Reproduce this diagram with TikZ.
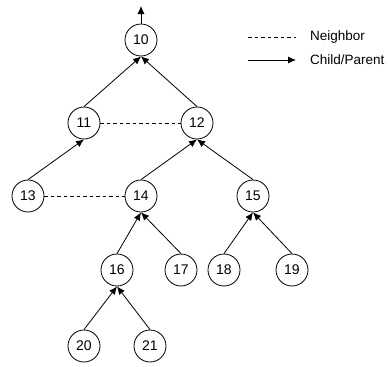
\documentclass[tikz,border=0pt]{standalone}
\usepackage{fontspec}
\setmainfont{Liberation Sans}
\usetikzlibrary{arrows.meta}
\tikzset{
    vertex/.style = {draw, circle, line width=0.8pt,
        minimum size=32pt, inner sep=0pt,
        font=\fontsize{14}{16}\selectfont},
    link/.style = {draw, line width=0.8pt, -{Latex[length=8pt,width=7pt]}},
    nbr/.style = {draw, line width=0.8pt, dash pattern=on 3.5pt off 3pt},
    legend/.style = {anchor=west, inner sep=0pt, font=\fontsize{13.5}{15}\selectfont}
}

\begin{document}
\begin{tikzpicture}[x=1pt, y=-1pt]
            \useasboundingbox (0,0) rectangle (389,367);
            % tree nodes
            \node[vertex] (n10) at (141,40) {10};
            \node[vertex] (n11) at (84,123) {11};
            \node[vertex] (n12) at (197,123) {12};
            \node[vertex] (n13) at (28,196) {13};
            \node[vertex] (n14) at (141,196) {14};
            \node[vertex] (n15) at (253,196) {15};
            \node[vertex] (n16) at (117,270) {16};
            \node[vertex] (n17) at (181,270) {17};
            \node[vertex] (n18) at (224,270) {18};
            \node[vertex] (n19) at (292,270) {19};
            \node[vertex] (n20) at (84,346) {20};
            \node[vertex] (n21) at (150,346) {21};
            \coordinate (up) at (141,6);
            % child -> parent
            \draw [link] (n10) -- (up);
            \draw [link] (n11.north) -- (n10.south);
            \draw [link] (n12.north) -- (n10.south);
            \draw [link] (n13.north) -- (n11.south);
            \draw [link] (n14.north) -- (n12.south);
            \draw [link] (n15.north) -- (n12.south);
            \draw [link] (n16.north) -- (n14.south);
            \draw [link] (n17.north) -- (n14.south);
            \draw [link] (n18.north) -- (n15.south);
            \draw [link] (n19.north) -- (n15.south);
            \draw [link] (n20.north) -- (n16.south);
            \draw [link] (n21.north) -- (n16.south);
            % neighbors
            \draw [nbr] (n11) -- (n12);
            \draw [nbr] (n13) -- (n14);
            % legend
            \coordinate (la) at (248,37);
            \coordinate (lb) at (296,37);
            \coordinate (lc) at (248,60);
            \coordinate (ld) at (296,60);
            \draw [nbr] (la) -- (lb);
            \draw [link] (lc) -- (ld);
            \node[legend] (tn) at (310,37) {Neighbor};
            \node[legend] (tc) at (310,60) {Child/Parent};
        \end{tikzpicture}
\end{document}
